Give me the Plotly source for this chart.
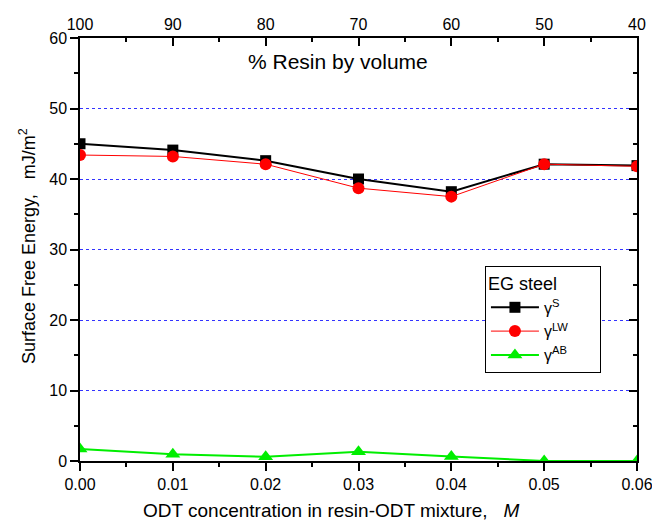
import plotly.graph_objects as go

odt_conc = [0.00, 0.01, 0.02, 0.03, 0.04, 0.05, 0.06]
gamma_s = [45.0, 44.1, 42.6, 40.0, 38.2, 42.1, 41.9]
gamma_lw = [43.4, 43.2, 42.1, 38.7, 37.5, 42.1, 41.8]
gamma_ab = [1.7, 0.95, 0.6, 1.3, 0.65, 0.0, 0.0]
resin_ticks = [100, 90, 80, 70, 60, 50, 40]

FONT = "Liberation Sans, Arial, sans-serif"
GRID = "#3333ff"
PAD = "<span style='color:rgba(0,0,0,0)'>MM</span>"

fig = go.Figure()
fig.add_trace(go.Scatter(x=odt_conc, y=gamma_s, mode="lines+markers", name="γ<sup>S</sup>",
                         line=dict(color="black", width=2),
                         marker=dict(symbol="square", size=11, color="black")))
fig.add_trace(go.Scatter(x=odt_conc, y=gamma_lw, mode="lines+markers", name="γ<sup>LW</sup>" + PAD,
                         line=dict(color="red", width=1),
                         marker=dict(symbol="circle", size=12, color="red")))
fig.add_trace(go.Scatter(x=odt_conc, y=gamma_ab, mode="lines+markers", name="γ<sup>AB</sup>",
                         line=dict(color="#00ee00", width=2),
                         marker=dict(symbol="triangle-up", size=13, color="#00ee00")))
# invisible trace for top/right axes
fig.add_trace(go.Scatter(x=resin_ticks, y=[None]*len(resin_ticks), xaxis="x2", yaxis="y2",
                         showlegend=False, hoverinfo="skip", mode="markers"))

axis_common = dict(showline=True, linecolor="black", linewidth=1.5, zeroline=False,
                   automargin=False, ticklabeloverflow="allow",
                   tickcolor="black", tickfont=dict(family=FONT, size=16, color="black"))

fig.update_layout(
    width=652, height=527,
    margin=dict(l=80, r=15, t=38, b=66),
    paper_bgcolor="white", plot_bgcolor="white",
    font=dict(family=FONT, color="black"),
    showlegend=True,
    xaxis=dict(range=[0, 0.06], tickvals=odt_conc, tickformat=".2f",
               ticks="outside", ticklen=8, tickwidth=1.5,
               minor=dict(dtick=0.005, ticks="outside", ticklen=4, tickcolor="black", showgrid=False),
               showgrid=False, **axis_common),
    yaxis=dict(range=[0, 60], dtick=10, ticks="outside", ticklen=8, tickwidth=1.5,
               minor=dict(dtick=5, ticks="outside", ticklen=4, tickcolor="black", showgrid=False),
               showgrid=True, gridcolor=GRID, griddash="dot", gridwidth=1.3,
               **axis_common),
    xaxis2=dict(overlaying="x", side="top", range=[100, 40], tickvals=resin_ticks,
                ticks="inside", ticklen=8, tickwidth=1.5,
                minor=dict(dtick=5, ticks="inside", ticklen=4, tickcolor="black", showgrid=False),
                showgrid=False, **axis_common),
    yaxis2=dict(overlaying="y", side="right", range=[0, 60], dtick=10, showticklabels=False,
                ticks="inside", ticklen=8, tickwidth=1.5,
                minor=dict(dtick=5, ticks="inside", ticklen=4, tickcolor="black", showgrid=False),
                showgrid=False, **axis_common),
    legend=dict(x=0.727, y=0.461, xanchor="left", yanchor="top",
                bordercolor="black", borderwidth=1, bgcolor="white",
                title=dict(text="EG steel", font=dict(family=FONT, size=18)),
                font=dict(family=FONT, size=16), itemwidth=48, tracegroupgap=0),
    annotations=[
        dict(text="% Resin by volume", x=(338 - 80) / 557.0, y=(461 - 62) / 423.0,
             xref="paper", yref="paper", xanchor="center", yanchor="middle",
             showarrow=False, font=dict(family=FONT, size=21, color="black")),
        dict(text="ODT concentration in resin-ODT mixture,   <i>M</i>",
             x=(331 - 80) / 557.0, y=(461 - 510) / 423.0,
             xref="paper", yref="paper", xanchor="center", yanchor="middle", showarrow=False,
             font=dict(family=FONT, size=19, color="black")),
        dict(text="Surface Free Energy,   mJ/m<sup>2</sup>",
             x=(27 - 80) / 557.0, y=(461 - 246) / 423.0,
             xref="paper", yref="paper", xanchor="center", yanchor="middle",
             showarrow=False, textangle=-90,
             font=dict(family=FONT, size=18, color="black")),
    ],
)

fig.write_html("out.html")
